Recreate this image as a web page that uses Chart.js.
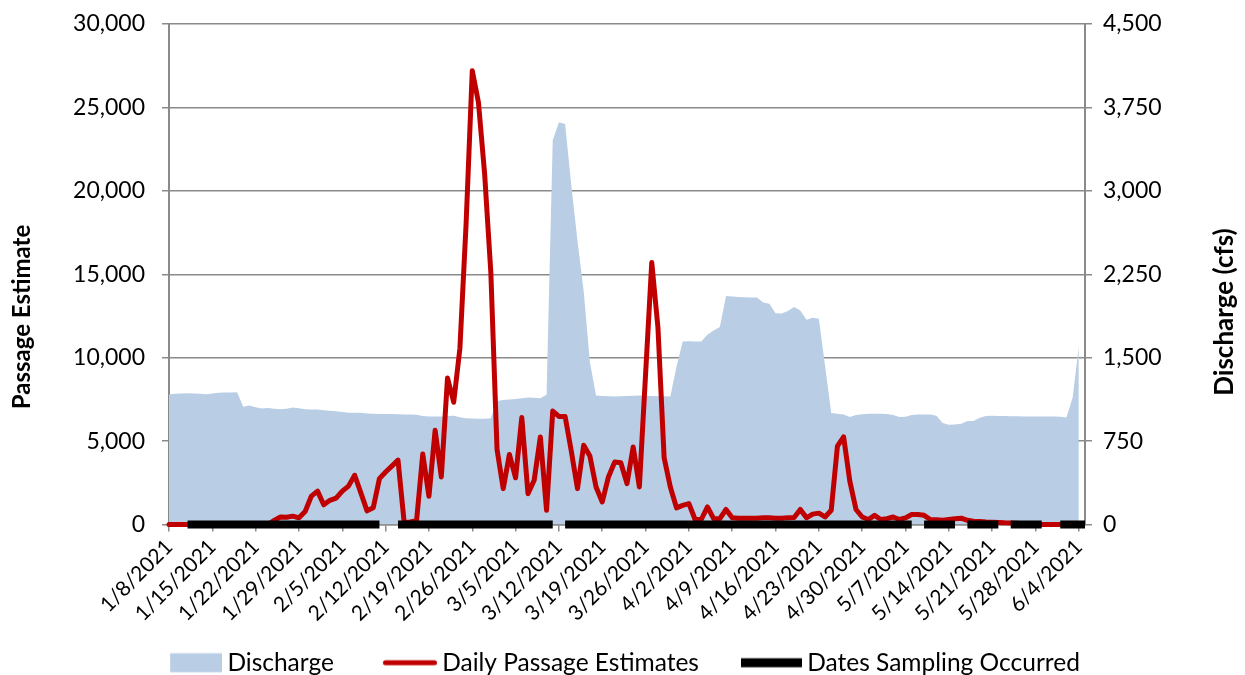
<!DOCTYPE html>
<html><head><meta charset="utf-8">
<script src="https://cdn.jsdelivr.net/npm/chart.js@4/dist/chart.umd.min.js"></script>
<style>html,body{margin:0;padding:0;background:#fff;}canvas{display:block;}</style>
</head><body>
<canvas id="c" width="1245" height="675"></canvas>
<script>
// ---------- DATA ----------
const firstDay = '2021-01-08';
const dayCount = 149; // 1/8/2021 .. 6/5/2021 (axis runs one day past the last value)

const tickLabels = ['1/8/2021','1/15/2021','1/22/2021','1/29/2021','2/5/2021','2/12/2021','2/19/2021',
  '2/26/2021','3/5/2021','3/12/2021','3/19/2021','3/26/2021','4/2/2021','4/9/2021','4/16/2021',
  '4/23/2021','4/30/2021','5/7/2021','5/14/2021','5/21/2021','5/28/2021','6/4/2021'];

const discharge = [
  1172,1175,1178,1180,1178,1175,1172,1178,1185,1186,1187,1188,
  1058,1070,1055,1042,1048,1040,1036,1040,1052,1045,1036,1035,
  1033,1028,1022,1018,1012,1005,1005,1005,998,996,994,993,
  993,992,990,988,987,975,971,971,971,975,977,965,
  956,952,950,950,955,1110,1120,1124,1128,1136,1141,1140,
  1136,1166,3455,3616,3600,3050,2550,2100,1460,1160,1155,1152,
  1150,1152,1155,1158,1160,1158,1155,1152,1152,1150,1420,1645,
  1648,1645,1645,1705,1745,1775,2054,2050,2046,2044,2041,2040,
  1995,1985,1900,1896,1920,1956,1925,1842,1860,1851,1425,1002,
  995,990,966,985,992,995,996,996,993,985,966,968,
  985,990,990,990,978,912,897,900,906,930,930,960,
  975,978,975,975,974,973,972,972,972,972,971,972,
  968,962,1140,1600];

const dailyPassage = [
  0,0,0,0,0,0,0,0,0,0,0,0,
  0,0,0,0,0,250,450,430,500,400,780,1700,
  2000,1180,1450,1580,2000,2300,2950,1900,820,1000,2750,3150,
  3500,3860,100,150,220,4220,1690,5650,2850,8780,7330,10550,
  18000,27200,25300,21000,15100,4500,2150,4200,2800,6420,1850,2650,
  5250,850,6800,6480,6480,4400,2150,4750,4100,2250,1350,2850,
  3740,3700,2450,4650,2250,9000,15700,11800,4000,2250,1000,1150,
  1250,300,300,1050,350,350,900,400,380,370,370,380,
  400,400,380,380,400,420,900,400,620,680,450,850,
  4700,5250,2600,900,450,300,550,300,350,450,300,400,
  600,600,550,300,280,250,300,350,380,250,200,180,
  150,140,120,100,90,70,50,30,10,0,0,0,
  0,0,0,0];

// 0 = sampling occurred that day, null = no sampling (10 days per row)
const samplingDates = [
  null,null,null,0,0,0,0,0,0,0,
  0,0,0,0,0,0,0,0,0,0,
  0,0,0,0,0,0,0,0,0,0,
  0,0,0,0,0,null,null,0,0,0,
  0,0,0,0,0,0,0,0,0,0,
  0,0,0,0,0,0,0,0,0,0,
  0,0,0,null,0,0,0,0,0,0,
  0,0,0,0,0,0,0,0,0,0,
  0,0,0,0,0,0,0,0,0,0,
  0,0,0,0,0,0,0,0,0,0,
  0,0,0,0,0,0,0,0,0,0,
  0,0,0,0,0,0,0,0,0,0,
  0,null,0,0,0,0,0,0,null,0,
  0,0,0,0,0,null,0,0,0,0,
  0,0,null,null,0,0,0,0,0];

const seriesNames = ['Discharge','Daily Passage Estimates','Dates Sampling Occurred'];
const leftTitle = 'Passage Estimate';
const rightTitle = 'Discharge (cfs)';

// categories (one per day)
const categories = [];
{
  const d0 = new Date(firstDay + 'T12:00:00');
  for (let i = 0; i < dayCount; i++) {
    const d = new Date(d0.getTime() + i * 86400000);
    categories.push((d.getMonth() + 1) + '/' + d.getDate() + '/' + d.getFullYear());
  }
}

// ---------- STYLE ----------
const FONT = 'Lato';
const GRID = '#8a8a8a';
const BLUE = '#b9cde5';
const RED = '#c00000';
Chart.defaults.font.family = FONT;
Chart.defaults.color = '#000';

// legend symbols: right-aligned inside an 84px wide image
function legendSymbol(kind) {
  const c = document.createElement('canvas');
  c.width = 84; c.height = 26;
  const g = c.getContext('2d');
  if (kind === 0) { g.fillStyle = BLUE; g.fillRect(32, 3.5, 52, 19); }
  if (kind === 1) {
    g.strokeStyle = RED; g.lineWidth = 5; g.lineCap = 'round';
    g.beginPath(); g.moveTo(32.5, 13); g.lineTo(81.5, 13); g.stroke();
  }
  if (kind === 2) { g.fillStyle = '#000'; g.fillRect(23, 8.5, 61, 9); }
  return c;
}

const axisTitles = {
  id: 'axisTitles',
  afterDraw(chart) {
    const ctx = chart.ctx;
    const draw = (text, x, y, size) => {
      ctx.save();
      ctx.font = 'bold ' + size + 'px ' + FONT;
      ctx.fillStyle = '#000';
      ctx.textAlign = 'center';
      ctx.textBaseline = 'middle';
      ctx.translate(x, y); ctx.rotate(-Math.PI / 2); ctx.fillText(text, 0, 0);
      ctx.restore();
    };
    draw(leftTitle, 22, 317, 24);
    draw(rightTitle, 1225, 312, 26);
  }
};

const fitY = (w) => (s) => { s.width = w; s.paddingTop = 0; s.paddingBottom = 0; };

new Chart(document.getElementById('c'), {
  type: 'line',
  data: {
    labels: categories,
    datasets: [
      { label: seriesNames[0], data: discharge, yAxisID: 'y2', order: 3,
        fill: 'origin', backgroundColor: BLUE, borderColor: 'rgba(0,0,0,0)', borderWidth: 0,
        pointRadius: 0, tension: 0 },
      { label: seriesNames[1], data: dailyPassage, yAxisID: 'y', order: 2,
        borderColor: RED, borderWidth: 5, borderJoinStyle: 'round', borderCapStyle: 'round',
        pointRadius: 0, tension: 0, fill: false, clip: false },
      { label: seriesNames[2], data: samplingDates, yAxisID: 'y', order: 1,
        borderColor: '#000', borderWidth: 8, borderCapStyle: 'butt', spanGaps: false,
        pointRadius: 0, tension: 0, fill: false, clip: false }
    ]
  },
  options: {
    responsive: false,
    animation: false,
    devicePixelRatio: 1,
    layout: { padding: { top: 24, bottom: -10, left: 0, right: 20 } },
    plugins: {
      tooltip: { enabled: false },
      legend: {
        position: 'bottom',
        labels: {
          usePointStyle: true,
          pointStyleWidth: 70,
          padding: 26,
          color: '#000',
          font: { family: FONT, size: 24.5 },
          generateLabels: () => seriesNames.map((n, i) => ({
            text: n, datasetIndex: i, pointStyle: legendSymbol(i),
            fillStyle: 'rgba(0,0,0,0)', strokeStyle: 'rgba(0,0,0,0)', lineWidth: 0, hidden: false
          }))
        }
      }
    },
    scales: {
      x: {
        type: 'category',
        offset: false,
        afterFit: (s) => { s.height = 100; },
        grid: { drawOnChartArea: false, drawTicks: true, tickLength: 7, color: GRID, lineWidth: 1.5 },
        border: { color: GRID, width: 1.5 },
        ticks: {
          autoSkip: false, maxRotation: 45, minRotation: 45, padding: 3,
          color: '#000', font: { family: FONT, size: 21 },
          callback: (v, i) => (i % 7 === 0 ? tickLabels[i / 7] : null)
        }
      },
      y: {
        position: 'left',
        min: 0, max: 30000,
        afterFit: fitY(169),
        grid: { color: GRID, lineWidth: 1.5, tickLength: 7 },
        border: { color: GRID, width: 2 },
        ticks: {
          stepSize: 5000, padding: 17, color: '#000', font: { family: FONT, size: 23 },
          callback: (v) => Number(v).toLocaleString('en-US')
        }
      },
      y2: {
        position: 'right',
        min: 0, max: 4500,
        afterFit: fitY(140),
        grid: { drawOnChartArea: false, color: GRID, lineWidth: 1.5, tickLength: 7 },
        border: { color: GRID, width: 2 },
        ticks: {
          stepSize: 750, padding: 11, color: '#000', font: { family: FONT, size: 23 },
          callback: (v) => Number(v).toLocaleString('en-US')
        }
      }
    }
  },
  plugins: [axisTitles]
});
</script>
</body></html>
